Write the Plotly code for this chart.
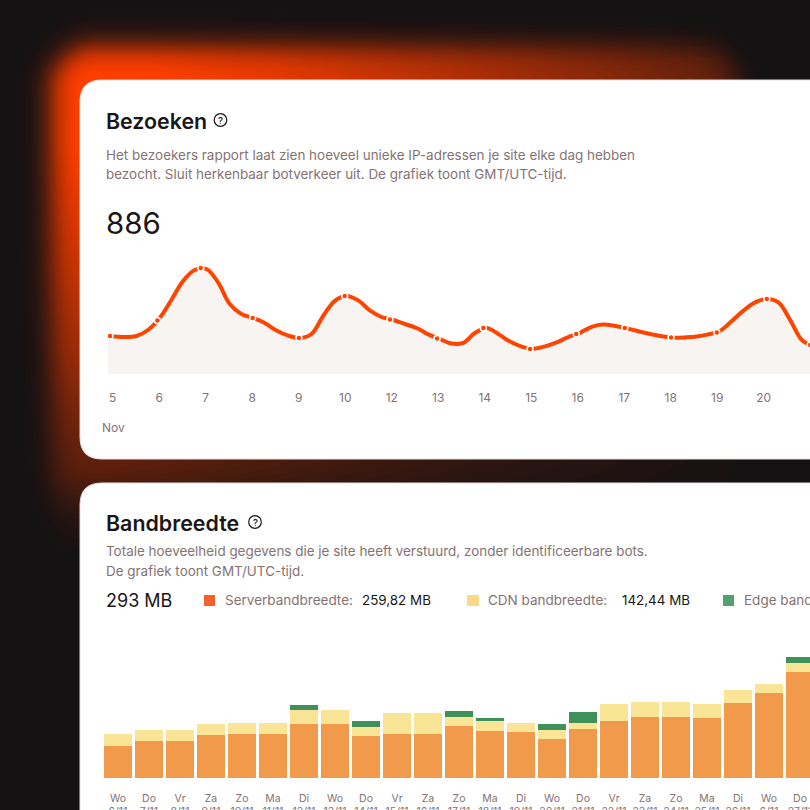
import numpy as np
import plotly.graph_objects as go

# ---- data: visits
month_label = "Nov"
day_labels = ["5", "6", "7", "8", "9", "10", "12", "13", "14", "15", "16", "17", "18", "19", "20", "21"]
curve_x = [-0.064, 0.25, 0.5, 0.75, 1.0, 1.25, 1.5, 1.75, 2.0, 2.25, 2.5, 2.75, 3.0, 3.25, 3.5, 3.75, 4.0, 4.25, 4.5,
           4.75, 5.0, 5.25, 5.5, 5.75, 6.0, 6.25, 6.5, 6.75, 7.0, 7.25, 7.5, 7.75, 8.0, 8.25, 8.5, 8.75, 9.0, 9.25,
           9.5, 9.75, 10.0, 10.25, 10.5, 10.75, 11.0, 11.25, 11.5, 11.75, 12.0, 12.25, 12.5, 12.75, 13.0, 13.25,
           13.5, 13.75, 14.0, 14.25, 14.5, 14.75, 14.93]
curve_y = [19.0, 18.5, 19.0, 22.0, 28.0, 37.0, 46.5, 52.0, 52.5, 45.8, 35.0, 30.0, 28.0, 25.5, 21.7, 19.2, 18.0, 20.0,
           29.0, 36.6, 39.0, 36.8, 31.8, 28.5, 27.0, 25.0, 23.0, 19.8, 17.5, 15.2, 15.6, 20.5, 23.0, 20.0, 16.2, 13.7,
           12.6, 13.8, 15.8, 18.5, 20.6, 23.6, 24.7, 24.0, 22.8, 21.4, 20.0, 18.9, 18.2, 18.3, 18.7, 19.8, 21.5, 26.5,
           31.7, 35.8, 37.5, 35.8, 27.0, 17.0, 14.5]
dot_x = [-0.064, 0.95, 1.88, 2.99, 3.98, 4.96, 5.93, 6.94, 7.93, 8.93, 9.92, 10.96, 11.95, 12.93, 14.0, 14.93]
dot_y = [19.0, 26.7, 53.0, 28.0, 18.0, 39.0, 27.3, 17.8, 23.0, 12.5, 20.0, 23.0, 18.2, 20.7, 37.5, 14.5]

# ---- data: bandwidth
bar_days = ["Wo", "Do", "Vr", "Za", "Zo", "Ma", "Di", "Wo", "Do", "Vr", "Za", "Zo", "Ma", "Di", "Wo", "Do", "Vr",
            "Za", "Zo", "Ma", "Di", "Wo", "Do"]
bar_dates = ["6/11", "7/11", "8/11", "9/11", "10/11", "11/11", "12/11", "13/11", "14/11", "15/11", "16/11", "17/11",
             "18/11", "19/11", "20/11", "21/11", "22/11", "23/11", "24/11", "25/11", "26/11", "6/11", "27/11"]
server = [4.85, 5.55, 5.55, 6.5, 6.6, 6.6, 8.05, 8.05, 6.35, 6.6, 6.6, 7.8, 7.1, 6.9, 5.85, 7.4, 8.55, 9.15, 9.15,
          9.0, 11.25, 12.75, 15.85]
cdn = [1.7, 1.65, 1.65, 1.65, 1.65, 1.65, 2.15, 2.15, 1.35, 3.15, 3.15, 1.4, 1.45, 1.35, 1.4, 0.8, 2.55, 2.3, 2.3,
       2.05, 2.0, 1.4, 1.45]
edge = [0, 0, 0, 0, 0, 0, 0.8, 0, 0.85, 0, 0, 0.85, 0.5, 0, 0.8, 1.75, 0, 0, 0, 0, 0, 0, 0.8]

W = 810
INK, MUTED, ORANGE = "#1a1617", "#857373", "#ff4400"
FONT = "Inter"


def px(x):
    return x / W


def py(y):
    return 1 - y / W


# ---- background glow as nested filled outlines
def glow(x, y):
    def s(v, c, w):
        return 1 / (1 + np.exp(-(v - c) / w))
    cx, cy, hx, hy, r = (52 + 738) / 2, (47 + 640) / 2, (738 - 52) / 2, (640 - 47) / 2, 45
    qx, qy = np.abs(x - cx) - hx + r, np.abs(y - cy) - hy + r
    d = np.hypot(np.maximum(qx, 0), np.maximum(qy, 0)) + np.minimum(np.maximum(qx, qy), 0) - r
    edge_fade = s(-d, 0, 8.5)
    fx = np.interp(x, [150, 270, 400, 500, 600, 700, 800], [1, .9, .74, .62, .5, .36, .25])
    fy = np.interp(y, [150, 270, 350, 400, 470, 520, 560], [1, .78, .6, .46, .3, .08, 0])
    cross = 1 - .7 * np.clip((x - 100) / 600, 0, 1) * np.clip((y - 80) / 390, 0, 1)
    return edge_fade * fx * fy * cross


shapes = []
angles = np.linspace(0, 2 * np.pi, 361)[:-1]
ox, oy = 90.0, 90.0
bg, hot = np.array([21, 18, 19]), np.array([255, 62, 0])
for t in np.linspace(0.02, 0.96, 48):
    lo, hi = np.zeros_like(angles), np.full_like(angles, 1200.0)
    for _ in range(22):
        mid = (lo + hi) / 2
        inside = glow(ox + mid * np.cos(angles), oy + mid * np.sin(angles)) > t
        lo, hi = np.where(inside, mid, lo), np.where(inside, hi, mid)
    xs, ys = ox + lo * np.cos(angles), oy + lo * np.sin(angles)
    path = "M" + "L".join(f"{px(a):.5f},{py(b):.5f}" for a, b in zip(xs, ys)) + "Z"
    c = (bg + (hot - bg) * min(1, t / 0.96)).astype(int)
    shapes.append(dict(type="path", path=path, xref="paper", yref="paper", layer="below",
                       fillcolor=f"rgb({c[0]},{c[1]},{c[2]})", line_width=0))


def card(x0, y0, x1, y1, r):
    p = (f"M{px(x0 + r)},{py(y0)} L{px(x1)},{py(y0)} L{px(x1)},{py(y1 - r)} Q{px(x1)},{py(y1)} {px(x1 - r)},{py(y1)} "
         f"L{px(x0 + r)},{py(y1)} Q{px(x0)},{py(y1)} {px(x0)},{py(y1 - r)} L{px(x0)},{py(y0 + r)} "
         f"Q{px(x0)},{py(y0)} {px(x0 + r)},{py(y0)} Z")
    return dict(type="path", path=p, xref="paper", yref="paper", layer="below", fillcolor="#ffffff",
                line=dict(color="#e9e1dc", width=1))


shapes += [card(80, 80, 840, 459, 22), card(80, 483, 840, 860, 22)]


def swatch(x0, x1, color):
    return dict(type="rect", xref="paper", yref="paper", x0=px(x0), x1=px(x1), y0=py(606), y1=py(595),
                fillcolor=color, line_width=0, layer="above")


def ring(cx, cy):
    return dict(type="circle", xref="paper", yref="paper", x0=px(cx - 6.3), x1=px(cx + 6.3), y0=py(cy + 6.3),
                y1=py(cy - 6.3), line=dict(color=INK, width=1.2), layer="above")


shapes += [swatch(204, 215, "#f2622e"), swatch(467, 479, "#f8da88"), swatch(723, 734, "#52a070"),
           ring(220.5, 120), ring(255, 522)]

annotations = []


def text(x, y, s, size, color=INK, weight=400, anchor="left"):
    annotations.append(dict(x=px(x), y=py(y), xref="paper", yref="paper", text=s, showarrow=False, xanchor=anchor,
                            yanchor="middle", borderpad=0,
                            font=dict(family=FONT, size=size, color=color, weight=weight)))


text(105, 120.5, "Bezoeken", 21.4, weight=600)
text(220.5, 120, "?", 9.5, weight=500, anchor="center")
text(105, 155, "Het bezoekers rapport laat zien hoeveel unieke IP-adressen je site elke dag hebben", 13.45, MUTED)
text(105, 174, "bezocht. Sluit herkenbaar botverkeer uit. De grafiek toont GMT/UTC-tijd.", 13.45, MUTED)
text(105, 223, "886", 29.5)
text(113, 427, month_label, 12, MUTED, anchor="center")
text(105, 523, "Bandbreedte", 21.4, weight=600)
text(255, 522, "?", 9.5, weight=500, anchor="center")
text(105, 551, "Totale hoeveelheid gegevens die je site heeft verstuurd, zonder identificeerbare bots.", 13.45, MUTED)
text(105, 571, "De grafiek toont GMT/UTC-tijd.", 13.45, MUTED)
text(105, 600, "293 MB", 18)
text(224, 600, "Serverbandbreedte:", 13.5, MUTED)
text(361, 600, "259,82 MB", 13.4)
text(487, 600, "CDN bandbreedte:", 13.5, MUTED)
text(621, 600, "142,44 MB", 13.4)
text(743, 600, "Edge bandbreedte:", 13.5, MUTED)

fig = go.Figure()
fig.add_trace(go.Scatter(x=[-0.107] + curve_x, y=[curve_y[0]] + curve_y, mode="lines", fill="tozeroy",
                         fillcolor="#f8f4f1", line=dict(width=0, shape="spline", smoothing=1),
                         hoverinfo="skip", xaxis="x", yaxis="y"))
fig.add_trace(go.Scatter(x=curve_x, y=curve_y, mode="lines", line=dict(color=ORANGE, width=4, shape="spline", smoothing=1),
                         hoverinfo="skip", xaxis="x", yaxis="y"))
fig.add_trace(go.Scatter(x=dot_x, y=dot_y, mode="markers", marker=dict(color=ORANGE, size=6, line=dict(color="#ffffff", width=1.5)),
                         xaxis="x", yaxis="y", name="Bezoeken"))

bar_x = list(range(len(server)))
for vals, col, name in [(server, "#f29a4b", "Serverbandbreedte"), (cdn, "#fae596", "CDN bandbreedte"),
                        (edge, "#3f9159", "Edge bandbreedte")]:
    fig.add_trace(go.Bar(x=bar_x, y=vals, marker=dict(color=col, line_width=0), name=name, xaxis="x2", yaxis="y2"))

scale = 46.7
tick_pos = [i * 46.5 / scale - 0.006 for i in range(len(day_labels))]
fig.update_layout(
    width=W, height=W, autosize=False, margin=dict(l=0, r=0, t=0, b=0, pad=0), showlegend=False,
    paper_bgcolor="#151213", plot_bgcolor="rgba(0,0,0,0)", barmode="stack", bargap=0.097,
    shapes=shapes, annotations=annotations, font=dict(family=FONT),
    xaxis=dict(domain=[px(108), 1], range=[(108 - 113) / scale, (810 - 113) / scale], showgrid=False, zeroline=False,
               automargin=False, showline=False, tickmode="array", tickvals=tick_pos, ticktext=day_labels, ticks="",
               ticklabelstandoff=15, ticklabeloverflow="allow", tickfont=dict(size=12, color=MUTED, family=FONT)),
    yaxis=dict(domain=[py(374), py(250)], range=[0, 62], visible=False, automargin=False),
    xaxis2=dict(domain=[px(80), 1], range=[(80 - 118) / 31, (810 - 118) / 31], showgrid=False, zeroline=False,
                automargin=False, showline=False, anchor="y2", tickmode="array", tickvals=bar_x,
                ticktext=[f"{d}<br>{t}" for d, t in zip(bar_days, bar_dates)], ticks="", ticklabelstandoff=12,
                ticklabeloverflow="allow", tickangle=0, tickfont=dict(size=10.5, color=MUTED, family=FONT)),
    yaxis2=dict(domain=[py(778), py(640)], range=[0, 20.7], visible=False, anchor="x2", automargin=False),
)
fig.write_html("out.html", config={"displayModeBar": False},
               post_script="document.body.style.margin='0';document.documentElement.style.background='#151213';")
